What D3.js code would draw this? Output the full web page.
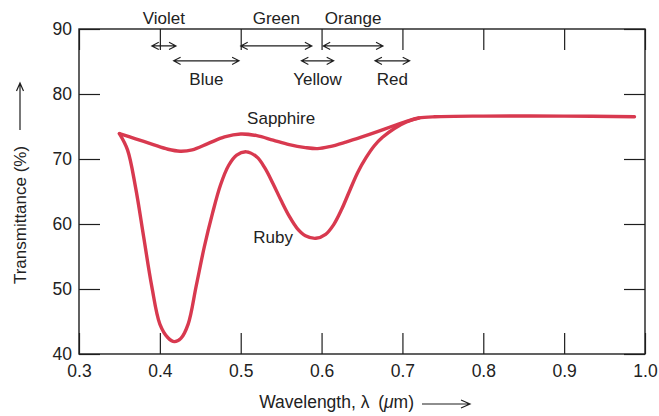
<!DOCTYPE html>
<html>
<head>
<meta charset="utf-8">
<script src="https://cdn.jsdelivr.net/npm/d3@7"></script>
<style>
  body { margin: 0; background: #fff; }
  svg text { font-family: "Liberation Sans", Arial, sans-serif; fill: #222; }
</style>
</head>
<body>
<svg width="659" height="416"></svg>
<script>
// data (wavelength in um, transmittance in %)
var sapphire = [
  [0.35, 73.9], [0.37, 73.1], [0.39, 72.3], [0.41, 71.5], [0.425, 71.2],
  [0.44, 71.4], [0.46, 72.4], [0.48, 73.4], [0.5, 73.85], [0.52, 73.6],
  [0.54, 72.9], [0.56, 72.2], [0.58, 71.75], [0.595, 71.6], [0.61, 71.9],
  [0.63, 72.6], [0.65, 73.4], [0.67, 74.25], [0.69, 75.15], [0.705, 75.8],
  [0.72, 76.3], [0.74, 76.5], [0.8, 76.6], [0.9, 76.6], [0.987, 76.5]
];
var ruby = [
  [0.35, 73.9], [0.36, 71.4], [0.37, 65.6], [0.38, 58.0], [0.39, 50.4],
  [0.40, 44.6], [0.41, 42.5], [0.418, 41.9], [0.426, 42.4], [0.435, 44.6],
  [0.445, 50.5], [0.455, 56.5], [0.465, 61.6], [0.475, 66.0], [0.485, 69.0],
  [0.495, 70.6], [0.507, 71.1], [0.52, 70.3], [0.53, 68.6], [0.54, 66.2],
  [0.55, 63.6], [0.56, 61.2], [0.57, 59.3], [0.58, 58.2], [0.593, 57.8],
  [0.605, 58.4], [0.615, 59.9], [0.625, 62.3], [0.635, 65.2], [0.645, 68.0],
  [0.655, 70.2], [0.665, 72.0], [0.675, 73.3], [0.69, 74.7], [0.705, 75.7],
  [0.72, 76.3]
];
var curveLabels = ["Sapphire", "Ruby"];
var curveLabelX = [0.55, 0.54];
var curveLabelY = [75.4, 57.1];

var bandNames = ["Violet", "Blue", "Green", "Yellow", "Orange", "Red"];
var bandStart = [0.39, 0.417, 0.5, 0.575, 0.602, 0.666];
var bandEnd   = [0.42, 0.498, 0.588, 0.615, 0.676, 0.709];
var bandRow   = [0, 1, 0, 1, 0, 1];

var xTicks = [0.3, 0.4, 0.5, 0.6, 0.7, 0.8, 0.9, 1.0];
var yTicks = [40, 50, 60, 70, 80, 90];

var svg = d3.select("svg");
var margin = {left: 79, top: 29, right: 14, bottom: 62};
var width = 659 - margin.left - margin.right;
var height = 416 - margin.top - margin.bottom;
var g = svg.append("g").attr("transform", "translate(" + margin.left + "," + margin.top + ")");

var xScale = d3.scaleLinear().domain([0.3, 1.0]).range([0, width]);
var yScale = d3.scaleLinear().domain([40, 90]).range([height, 0]);

var red = "#d8394f";
var ink = "#1e1e1e";

// axes: ticks point inward on all four sides
g.append("g").attr("class", "axis")
  .call(d3.axisLeft(yScale).tickValues(yTicks).tickSize(-21).tickSizeOuter(0).tickPadding(7));
g.append("g").attr("class", "axis")
  .attr("transform", "translate(0," + height + ")")
  .call(d3.axisBottom(xScale).tickValues(xTicks).tickSize(-21).tickSizeOuter(0).tickPadding(11)
        .tickFormat(d3.format(".1f")));
g.append("g").attr("class", "axis")
  .attr("transform", "translate(" + width + ",0)")
  .call(d3.axisRight(yScale).tickValues(yTicks).tickSize(-21).tickSizeOuter(0).tickFormat(""));
g.append("g").attr("class", "axis")
  .call(d3.axisTop(xScale).tickValues(xTicks).tickSize(-21).tickSizeOuter(0).tickFormat(""));

g.selectAll(".axis path").remove();
g.selectAll(".axis line").attr("stroke", ink).attr("stroke-width", 1.2);
g.selectAll(".axis text").attr("font-size", 17.5).attr("fill", "#333")
  .attr("font-family", "Liberation Sans, Arial, sans-serif");

g.append("rect")
  .attr("width", width).attr("height", height)
  .attr("fill", "none").attr("stroke", ink).attr("stroke-width", 1.4);

// curves
var line = d3.line()
  .x(function(d) { return xScale(d[0]); })
  .y(function(d) { return yScale(d[1]); })
  .curve(d3.curveCatmullRom.alpha(0.5));

[sapphire, ruby].forEach(function(s) {
  g.append("path").datum(s)
    .attr("d", line)
    .attr("fill", "none")
    .attr("stroke", red)
    .attr("stroke-width", 3.4)
    .attr("stroke-linecap", "round")
    .attr("stroke-linejoin", "round");
});

g.selectAll(".clabel")
  .data(curveLabels)
  .enter()
  .append("text")
  .attr("x", function(d, i) { return xScale(curveLabelX[i]); })
  .attr("y", function(d, i) { return yScale(curveLabelY[i]); })
  .attr("text-anchor", "middle")
  .attr("font-size", 17)
  .text(function(d) { return d; });

// colour band arrows
function dblArrow(sel, x1, x2, y) {
  var h = 7, w = 3.6;
  sel.append("path")
    .attr("d", "M" + x1 + "," + y + "H" + x2 +
               "M" + (x1 + h) + "," + (y - w) + "L" + x1 + "," + y + "L" + (x1 + h) + "," + (y + w) +
               "M" + (x2 - h) + "," + (y - w) + "L" + x2 + "," + y + "L" + (x2 - h) + "," + (y + w))
    .attr("fill", "none")
    .attr("stroke", ink)
    .attr("stroke-width", 1.1);
}

var rowArrowY = [87.4, 85.1];
var rowLabelY = [-5, 56];

bandNames.forEach(function(name, i) {
  var x1 = xScale(bandStart[i]), x2 = xScale(bandEnd[i]);
  dblArrow(g, x1, x2, yScale(rowArrowY[bandRow[i]]));
  g.append("text")
    .attr("x", (x1 + x2) / 2)
    .attr("y", rowLabelY[bandRow[i]])
    .attr("text-anchor", "middle")
    .attr("font-size", 17)
    .text(name);
});

// axis titles
svg.append("text")
  .attr("transform", "translate(26,215) rotate(-90)")
  .attr("text-anchor", "middle")
  .attr("font-size", 17)
  .text("Transmittance (%)");
svg.append("path")
  .attr("d", "M20,130V83M16.5,91L20,83L23.5,91")
  .attr("fill", "none").attr("stroke", ink).attr("stroke-width", 1.2);

var xt = svg.append("text")
  .attr("x", 414)
  .attr("y", 408)
  .attr("text-anchor", "end")
  .attr("font-size", 17.5);
xt.append("tspan").text("Wavelength, \u03bb\u2002(");
xt.append("tspan").attr("font-style", "italic").text("\u03bc");
xt.append("tspan").text("m)");
svg.append("path")
  .attr("d", "M422,404H470M461,400L470,404L461,408")
  .attr("fill", "none").attr("stroke", ink).attr("stroke-width", 1.2);
</script>
</body>
</html>
